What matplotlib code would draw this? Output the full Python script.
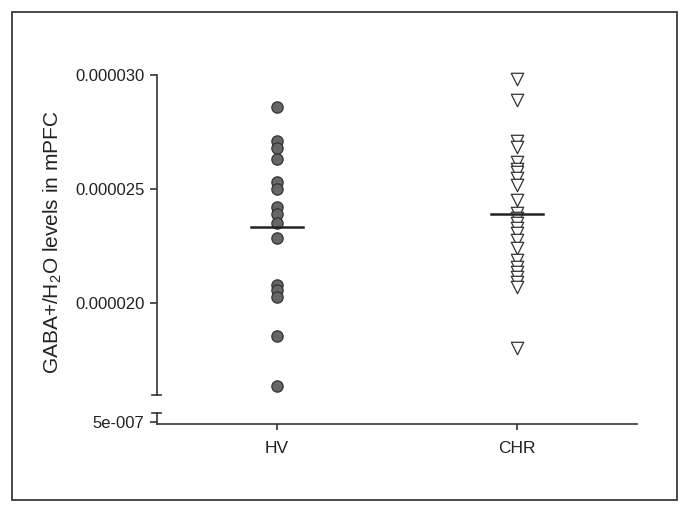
import matplotlib
matplotlib.use("Agg")
import matplotlib.pyplot as plt
from matplotlib.patches import Rectangle
from matplotlib.lines import Line2D
import numpy as np

plt.rcParams["font.family"] = ["Liberation Sans", "DejaVu Sans"]
plt.rcParams["mathtext.fontset"] = "custom"
plt.rcParams["mathtext.rm"] = "Liberation Sans"

groups = ["HV", "CHR"]
hv = [28.58, 27.11, 26.79, 26.30, 25.32, 24.99, 24.22, 23.90, 23.50, 22.86,
      20.79, 20.57, 20.25, 18.55, 16.36]
chr_ = [29.82, 28.90, 27.11, 26.84, 26.18, 25.88, 25.75, 25.48, 25.18, 24.52,
        23.95, 23.73, 23.51, 23.29, 23.07, 22.76, 22.41, 21.89, 21.58, 21.36,
        21.14, 20.92, 20.70, 18.03]
hv = np.array(hv) * 1e-6
chr_ = np.array(chr_) * 1e-6
upper_ticks = [0.000020, 0.000025, 0.000030]
upper_labels = ["0.000020", "0.000025", "0.000030"]
lower_ticks = [5e-7]
lower_labels = ["5e-007"]

dark = "#333333"
txt = "#222222"
W, H = 690, 513
fig = plt.figure(figsize=(W / 100, H / 100), dpi=100)

# outer frame
fig.patches.append(Rectangle((12 / W, 1 - 500 / H), 665 / W, 488 / H,
                             transform=fig.transFigure, fill=False,
                             edgecolor="#3a3a3a", lw=1.3))

left, right = 157 / W, 637 / W
ax = fig.add_axes([left, 1 - 395 / H, right - left, 320 / H])
axb = fig.add_axes([left, 1 - 424.3 / H, right - left, 11.6 / H])

for a in (ax, axb):
    a.set_xlim(0, 2)
    for s in ("top", "right"):
        a.spines[s].set_visible(False)
    a.spines["left"].set_color(dark)
    a.spines["left"].set_linewidth(1.2)
    a.tick_params(axis="y", length=5, width=1.2, color=dark, labelsize=12,
                  labelcolor=txt, pad=4)
    a.patch.set_alpha(0)

ax.spines["bottom"].set_visible(False)
ax.set_xticks([])
ax.set_ylim(1.596e-5, 3.0e-5)
ax.set_yticks(upper_ticks)
ax.set_yticklabels(upper_labels)

axb.set_ylim(0, 2.2e-6)
axb.set_yticks(lower_ticks)
axb.set_yticklabels(lower_labels)
axb.spines["bottom"].set_color(dark)
axb.spines["bottom"].set_linewidth(1.2)
axb.set_xticks([0.5, 1.5])
axb.set_xticklabels(groups, fontsize=12.5, color=txt)
axb.tick_params(axis="x", length=4, width=1.2, color=dark, pad=8)

# break caps
for y in (395, 412.7):
    fig.add_artist(Line2D([(left * W - 5) / W, (left * W + 4) / W], [1 - y / H] * 2,
                          color=dark, lw=1.2))

xs = [0.5, 1.5]
ax.scatter(np.full(len(hv), xs[0]), hv, s=66, marker="o", facecolor="#666666",
           edgecolor="#333333", linewidth=0.9, zorder=3, clip_on=False)
ax.scatter(np.full(len(chr_), xs[1]), chr_, s=80, marker="v", facecolor="white",
           edgecolor="#333333", linewidth=0.9, zorder=3, clip_on=False)
for x, vals in zip(xs, (hv, chr_)):
    m = np.mean(vals)
    ax.plot([x - 0.11, x + 0.11], [m, m], color="#222222", lw=1.8, zorder=4)

fig.text(53 / W, 1 - 242 / H, "GABA+/H$_{2}$O levels in mPFC", rotation=90,
         ha="center", va="center", fontsize=15, color=txt)

fig.savefig("out.png", dpi=100)
